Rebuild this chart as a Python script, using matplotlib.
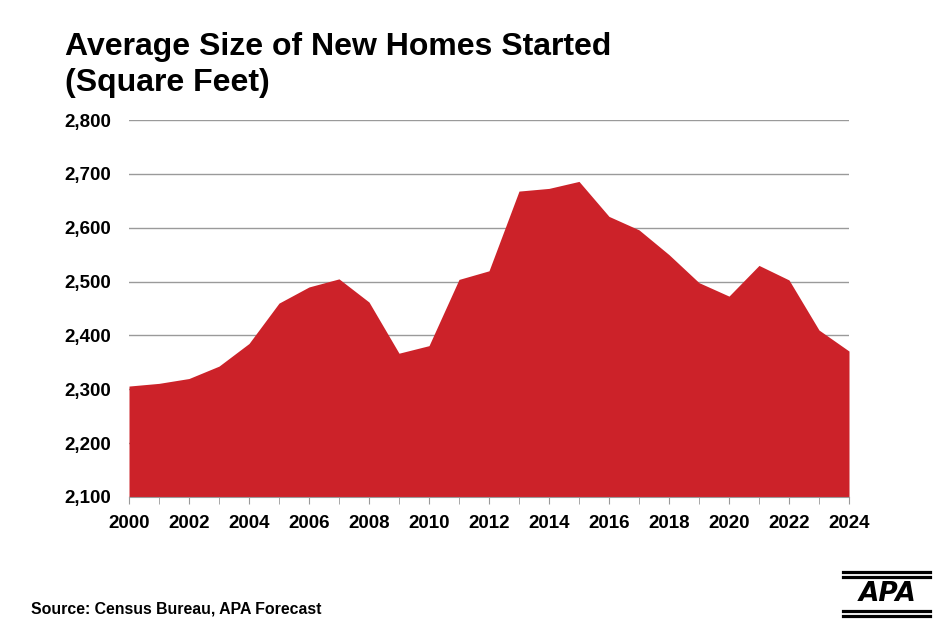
import matplotlib
matplotlib.use("Agg")
import matplotlib.pyplot as plt
from matplotlib.lines import Line2D

years = list(range(2000, 2025))
sizes = [2306, 2311, 2320, 2343, 2385, 2460, 2490, 2505, 2462, 2367, 2381,
         2504, 2520, 2668, 2673, 2686, 2621, 2596, 2550, 2498, 2473, 2530,
         2503, 2410, 2371]
y_ticks = [2100, 2200, 2300, 2400, 2500, 2600, 2700, 2800]
x_ticks = list(range(2000, 2025, 2))

plt.rcParams['font.family'] = ['Liberation Sans', 'DejaVu Sans']

fig = plt.figure(figsize=(9.51, 6.42), dpi=100)
ax = fig.add_axes([129/951, 1-497/642, 720/951, 377/642])

ax.fill_between(years, sizes, 2100, color='#CC2229', linewidth=0, zorder=2)
ax.set_xlim(2000, 2024)
ax.set_ylim(2100, 2800)
ax.set_yticks(y_ticks)
ax.set_yticklabels([f"{v:,}" for v in y_ticks], fontsize=13.5, fontweight='bold')
ax.set_xticks(years, minor=True)
ax.set_xticks(x_ticks)
ax.set_xticklabels([str(v) for v in x_ticks], fontsize=13.5, fontweight='bold')
ax.grid(axis='y', color='#9a9a9a', linewidth=1, zorder=1)
for s in ['top', 'right', 'left']:
    ax.spines[s].set_visible(False)
ax.spines['bottom'].set_color('#9a9a9a')
ax.tick_params(axis='y', length=0, pad=13)
ax.tick_params(axis='x', which='both', length=5, color='#9a9a9a', pad=8)
ax.set_axisbelow(True)

fig.text(65/951, 1-55/642, "Average Size of New Homes Started", fontsize=23,
         fontweight='bold', ha='left', va='baseline')
fig.text(65/951, 1-91/642, "(Square Feet)", fontsize=23,
         fontweight='bold', ha='left', va='baseline')
fig.text(31/951, 1-609/642, "Source: Census Bureau, APA Forecast", fontsize=11.4,
         fontweight='bold', ha='left', va='center')

# APA logo
for yy in [571.5, 576.5, 610.5, 615.5]:
    fig.add_artist(Line2D([843/951, 930/951], [1-yy/642, 1-yy/642],
                          color='black', linewidth=2.3, transform=fig.transFigure))
fig.text(888/951, 1-594/642, "APA", fontsize=19, fontweight='bold', style='italic',
         family='DejaVu Sans', ha='center', va='center')

fig.savefig("out.png", dpi=100)
